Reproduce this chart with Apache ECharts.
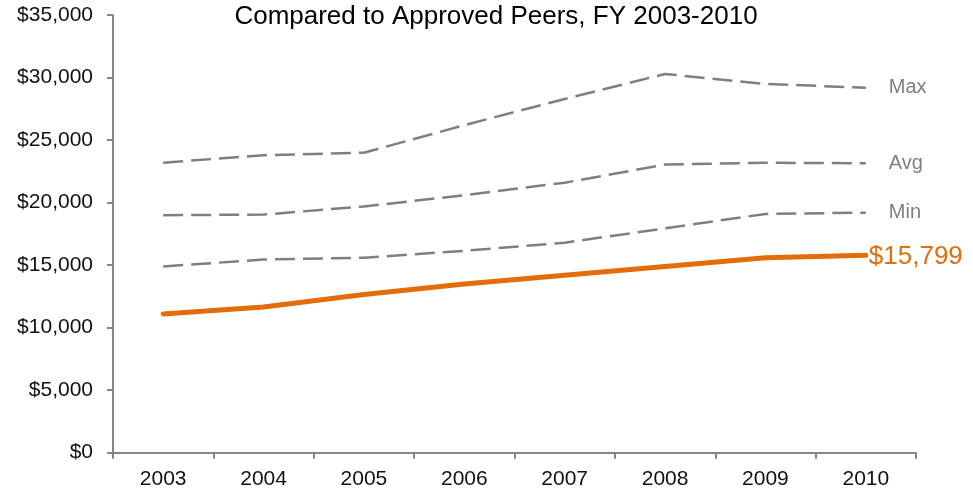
<!DOCTYPE html>
<html>
<head>
<meta charset="utf-8">
<script src="https://cdn.jsdelivr.net/npm/echarts@6/dist/echarts.min.js"></script>
<style>html,body{margin:0;padding:0;background:#fff}#c{width:973px;height:499px}</style>
</head>
<body>
<div id="c"></div>
<script>
var title = 'Compared to Approved Peers, FY 2003-2010';
var years = ['2003','2004','2005','2006','2007','2008','2009','2010'];
var maxVals = [23200, 23800, 24000, 26200, 28300, 30300, 29500, 29200];
var avgVals = [19000, 19050, 19700, 20600, 21600, 23050, 23200, 23150];
var minVals = [14900, 15450, 15600, 16150, 16800, 17950, 19100, 19200];
var schoolVals = [11100, 11650, 12650, 13500, 14200, 14900, 15600, 15799];

var chart = echarts.init(document.getElementById('c'));
var gray = '#7f7f7f';
var axisCol = '#868686';
function money(v){ return '$' + Math.round(v).toString().replace(/\B(?=(\d{3})+(?!\d))/g, ','); }
function dashed(name, data){
  return {
    name: name, type: 'line', data: data, symbol: 'none', silent: true,
    lineStyle: { color: gray, width: 2.5, type: [20, 8] },
    endLabel: { show: true, formatter: name, color: gray, fontSize: 20,
      fontFamily: 'Liberation Sans, Arial, sans-serif', distance: 23 }
  };
}
chart.setOption({
  animation: false,
  title: { text: title, left: 491, textAlign: 'center', top: -1,
    textStyle: { fontFamily: 'Liberation Sans, Arial, sans-serif', fontWeight: 'normal', fontSize: 26, color: '#000' } },
  grid: { left: 113, right: 57, top: 15.2, bottom: 46.3, containLabel: false },
  xAxis: {
    type: 'category', data: years, boundaryGap: true,
    axisLine: { lineStyle: { color: axisCol, width: 2 } },
    axisTick: { show: true, length: 6, lineStyle: { color: axisCol, width: 2 } },
    axisLabel: { color: '#111', fontSize: 21, fontFamily: 'Liberation Sans, Arial, sans-serif', margin: 16 }
  },
  yAxis: {
    type: 'value', min: 0, max: 35000, interval: 5000,
    splitLine: { show: false },
    axisLine: { show: true, lineStyle: { color: axisCol, width: 2 } },
    axisTick: { show: true, length: 6, lineStyle: { color: axisCol, width: 2 } },
    axisLabel: { color: '#111', fontSize: 21, fontFamily: 'Liberation Sans, Arial, sans-serif', margin: 20, formatter: money }
  },
  series: [
    dashed('Max', maxVals),
    dashed('Avg', avgVals),
    dashed('Min', minVals),
    {
      name: 'School', type: 'line', data: schoolVals, symbol: 'none', silent: true,
      lineStyle: { color: '#E46C0A', width: 5, cap: 'round' },
      endLabel: { show: true, formatter: function(p){ return money(p.value); }, color: '#E46C0A', fontSize: 26,
        fontFamily: 'Liberation Sans, Arial, sans-serif', distance: 3, offset: [0, 2] }
    }
  ]
});
</script>
</body>
</html>
